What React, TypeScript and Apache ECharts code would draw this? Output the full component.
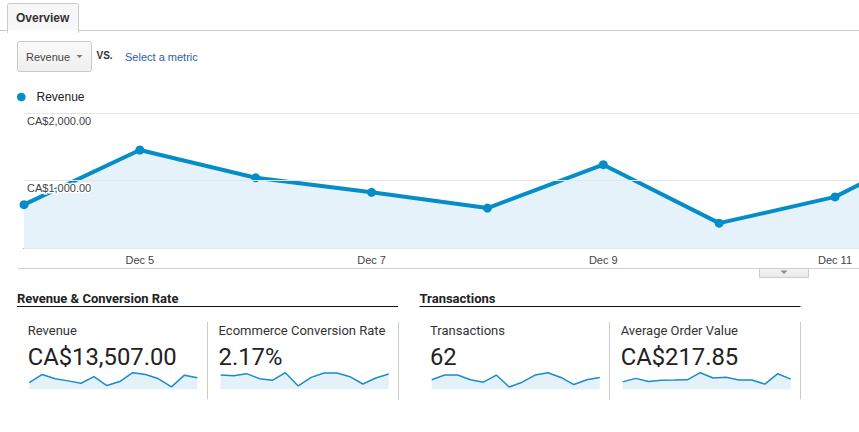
import React, { useEffect, useRef } from "react";
import * as echarts from "echarts";

const dates = ["Dec 4", "Dec 5", "Dec 6", "Dec 7", "Dec 8", "Dec 9", "Dec 10", "Dec 11", "Dec 12", "Dec 13", "Dec 14", "Dec 15", "Dec 16", "Dec 17"];
const revenue = [642, 1452, 1040, 825, 592, 1234, 368, 757, 1625, 1452, 1025, 237, 1386, 1124];
const conversionRate = [2.52, 2.4, 2.76, 1.88, 1.58, 2.93, 0.59, 2.11, 2.87, 2.87, 2.23, 0.94, 1.99, 2.7];
const transactions = [4, 6, 6, 4, 3, 6, 1, 3, 6, 7, 5, 2, 4, 5];
const avgOrderValue = [165, 242, 175, 203, 205, 210, 368, 252, 267, 207, 205, 115, 346, 226];
const yTicks = [0, 1000, 2000];
const visibleTickLabels = ["Dec 5", "Dec 7", "Dec 9", "Dec 11"];

const groupTitles = ["Revenue & Conversion Rate", "Transactions"];
const metricNames = ["Revenue", "Ecommerce Conversion Rate", "Transactions", "Average Order Value"];
const metricValues = ["CA$13,507.00", "2.17%", "62", "CA$217.85"];
const sparkData = [revenue, conversionRate, transactions, avgOrderValue];

const ARIAL = '"Liberation Sans", Arial, sans-serif';
const ROBOTO = 'Roboto, "Liberation Sans", sans-serif';
const BLUE = "#058dc7";

function txt(x: number, y: number, text: string, font: string, fill: string, align = "left") {
  return {
    type: "text",
    x,
    y,
    silent: true,
    z: 100,
    style: { text, font, fill, align, verticalAlign: "middle", textAlign: align, textVerticalAlign: "middle" },
  };
}

export default function App() {
  const ref = useRef<HTMLDivElement>(null);
  useEffect(() => {
    if (!ref.current) return;
    const chart = echarts.init(ref.current, undefined, { renderer: "svg" });

    const step = 115.86;
    const mainWidth = step * (dates.length - 1);

    const sparkLeft = [29.3, 220.7, 431.7, 622.7];
    const sparkWidth = 168;

    const grids: any[] = [
      { left: 24, top: 113, width: mainWidth, height: 135, outerBoundsMode: "none", containLabel: false },
    ];
    const xAxes: any[] = [
      {
        type: "category",
        gridIndex: 0,
        data: dates,
        boundaryGap: false,
        axisLine: { lineStyle: { color: "#333", width: 1 } },
        axisTick: { show: false },
        axisLabel: {
          interval: (i: number) => visibleTickLabels.indexOf(dates[i]) >= 0,
          color: "#444",
          fontSize: 11,
          fontFamily: ARIAL,
          margin: 6,
        },
        splitLine: { show: false },
      },
    ];
    const yAxes: any[] = [
      {
        type: "value",
        gridIndex: 0,
        min: yTicks[0],
        max: yTicks[yTicks.length - 1],
        interval: yTicks[1] - yTicks[0],
        z: 10,
        axisLine: { show: false },
        axisTick: { show: false },
        splitLine: { lineStyle: { color: "#e6e6e6", width: 1 } },
        axisLabel: {
          inside: true,
          margin: 3,
          verticalAlign: "top",
          padding: [2, 0, 0, 0],
          color: "#444",
          fontSize: 11,
          fontFamily: ARIAL,
          textBorderColor: "#fff",
          textBorderWidth: 3,
          formatter: (v: number) =>
            v === 0 ? "" : "CA$" + v.toLocaleString("en-US", { minimumFractionDigits: 2, maximumFractionDigits: 2 }),
        },
      },
    ];
    const series: any[] = [
      {
        type: "line",
        xAxisIndex: 0,
        yAxisIndex: 0,
        data: revenue,
        symbol: "circle",
        symbolSize: 9,
        showAllSymbol: true,
        lineStyle: { color: BLUE, width: 4 },
        itemStyle: { color: BLUE },
        areaStyle: { color: "#e5f2f9", opacity: 1 },
        z: 2,
      },
    ];

    sparkData.forEach((d, i) => {
      const gi = i + 1;
      grids.push({ left: sparkLeft[i], top: 372.7, width: sparkWidth, height: 16.6, outerBoundsMode: "none", containLabel: false });
      xAxes.push({
        type: "category",
        gridIndex: gi,
        data: dates,
        boundaryGap: false,
        show: false,
      });
      yAxes.push({ type: "value", gridIndex: gi, min: 0, max: "dataMax", show: false, splitLine: { show: false } });
      series.push({
        type: "line",
        xAxisIndex: gi,
        yAxisIndex: gi,
        data: d,
        symbol: "none",
        lineStyle: { color: "#1a8ccc", width: 1.5 },
        areaStyle: { color: "#e4f1f9", opacity: 1 },
      });
    });

    const graphic: any[] = [
      // tab header line
      { type: "line", shape: { x1: 0, y1: 30.5, x2: 7.5, y2: 30.5 }, style: { stroke: "#ccc", lineWidth: 1 } },
      { type: "line", shape: { x1: 78.5, y1: 30.5, x2: 859, y2: 30.5 }, style: { stroke: "#ccc", lineWidth: 1 } },
      {
        type: "rect",
        shape: { x: 7.5, y: 3.5, width: 71, height: 29, r: [2, 2, 0, 0] },
        style: { fill: "#f7f7f7", stroke: "#ccc", lineWidth: 1 },
      },
      { type: "rect", shape: { x: 8, y: 30, width: 70, height: 3 }, style: { fill: "#fff" } },
      txt(16, 17.5, "Overview", `bold 12px ${ARIAL}`, "#333"),
      // dropdown
      {
        type: "rect",
        shape: { x: 17.5, y: 41.5, width: 74, height: 30, r: 2 },
        style: {
          fill: new echarts.graphic.LinearGradient(0, 0, 0, 1, [
            { offset: 0, color: "#fafafa" },
            { offset: 1, color: "#efefef" },
          ]),
          stroke: "#c8c8c8",
          lineWidth: 1,
        },
      },
      txt(26, 56.5, "Revenue", `11px ${ARIAL}`, "#444"),
      { type: "polygon", shape: { points: [[76.5, 55], [82.5, 55], [79.5, 58]] }, style: { fill: "#777" } },
      txt(96.5, 55, "VS.", `bold 10px ${ARIAL}`, "#333"),
      txt(125, 56.5, "Select a metric", `11px ${ARIAL}`, "#2a5db0"),
      // legend
      { type: "circle", shape: { cx: 21.3, cy: 97, r: 4.3 }, style: { fill: BLUE } },
      txt(36.5, 97, "Revenue", `12px ${ARIAL}`, "#222"),
      // below-chart line and small tab
      { type: "line", shape: { x1: 18, y1: 268.5, x2: 859, y2: 268.5 }, style: { stroke: "#d0d0d0", lineWidth: 1 } },
      {
        type: "rect",
        shape: { x: 759.5, y: 268.5, width: 49, height: 9 },
        style: {
          fill: new echarts.graphic.LinearGradient(0, 0, 0, 1, [
            { offset: 0, color: "#f4f4f4" },
            { offset: 1, color: "#e8e8e8" },
          ]),
          stroke: "#ccc",
          lineWidth: 1,
        },
      },
      { type: "polygon", shape: { points: [[780.5, 270.5], [787.5, 270.5], [784, 274]] }, style: { fill: "#888" } },
      // group headers
      txt(17, 298.5, groupTitles[0], `bold 13px ${ROBOTO}`, "#222"),
      { type: "line", shape: { x1: 17, y1: 306.5, x2: 398, y2: 306.5 }, style: { stroke: "#111", lineWidth: 1.2 } },
      txt(419.5, 298.5, groupTitles[1], `bold 13px ${ROBOTO}`, "#222"),
      { type: "line", shape: { x1: 419.5, y1: 306.5, x2: 800.5, y2: 306.5 }, style: { stroke: "#111", lineWidth: 1.2 } },
    ];

    const sepX = [207.5, 398.5, 609.5, 800.5];
    sepX.forEach((x) =>
      graphic.push({ type: "line", shape: { x1: x, y1: 322, x2: x, y2: 399.5 }, style: { stroke: "#ccc", lineWidth: 1 } })
    );
    const labelX = [27.7, 218.6, 430, 620.7];
    metricNames.forEach((n, i) => {
      graphic.push(txt(labelX[i], 330.5, n, `13px ${ROBOTO}`, "#333"));
      graphic.push(txt(labelX[i], 356.5, metricValues[i], `23.8px ${ROBOTO}`, "#222"));
    });

    chart.setOption({
      animation: false,
      backgroundColor: "#fff",
      grid: grids,
      xAxis: xAxes,
      yAxis: yAxes,
      series,
      graphic: { elements: graphic },
    });
    return () => chart.dispose();
  }, []);
  return <div ref={ref} style={{ position: "fixed", left: 0, top: 0, width: 859, height: 432 }} />;
}
